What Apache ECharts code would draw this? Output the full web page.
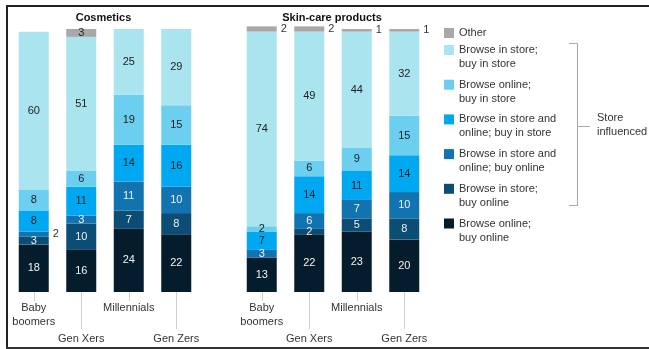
<!DOCTYPE html>
<html>
<head>
<meta charset="utf-8">
<script src="https://cdn.jsdelivr.net/npm/echarts@6/dist/echarts.min.js"></script>
<style>
  html, body { margin: 0; padding: 0; background: #fff; }
  #chart { width: 649px; height: 349px; }
</style>
</head>
<body>
<div id="chart"></div>
<script>
// Generations on the x axis
const categories = ['Baby\nboomers', 'Gen Xers', 'Millennials', 'Gen Zers'];

// Purchase-journey groups, bottom of the stack first
const seriesNames = [
  'Browse online;\nbuy online',
  'Browse in store;\nbuy online',
  'Browse in store and\nonline; buy online',
  'Browse in store and\nonline; buy in store',
  'Browse online;\nbuy in store',
  'Browse in store;\nbuy in store',
  'Other'
];

// Cosmetics, % of respondents
const cosOnlineOnline = [18, 16, 24, 22];
const cosStoreOnline  = [3, 10, 7, 8];
const cosBothOnline   = [2, 3, 11, 10];
const cosBothStore    = [8, 11, 14, 16];
const cosOnlineStore  = [8, 6, 19, 15];
const cosStoreStore   = [60, 51, 25, 29];
const cosOther        = [0, 3, 0, 0];

// Skin-care products, % of respondents
const skinOnlineOnline = [13, 22, 23, 20];
const skinStoreOnline  = [0, 2, 5, 8];
const skinBothOnline   = [3, 6, 7, 10];
const skinBothStore    = [7, 14, 11, 14];
const skinOnlineStore  = [2, 6, 9, 15];
const skinStoreStore   = [74, 49, 44, 32];
const skinOther        = [2, 2, 1, 1];

const colors = ['#051c2c', '#0b4d74', '#1174b0', '#00a8f2', '#6ccff0', '#aae4ef', '#a8a8a8'];
const labelColors = ['#f2f2f2', '#eeeeee', '#f2f2f2', '#222', '#222', '#222', '#222'];

const cosData = [cosOnlineOnline, cosStoreOnline, cosBothOnline, cosBothStore, cosOnlineStore, cosStoreStore, cosOther];
const skinData = [skinOnlineOnline, skinStoreOnline, skinBothOnline, skinBothStore, skinOnlineStore, skinStoreStore, skinOther];

const FONT = '"Liberation Sans", Arial, sans-serif';

// labels that sit beside the bar instead of inside it
function isOutside(panel, s, i) {
  if (panel === 0) return s === 2 && i === 0;
  return s === 6;
}

function buildSeries(panel, dataSets) {
  return dataSets.map(function (vals, s) {
    return {
      name: seriesNames[s],
      type: 'bar',
      stack: panel === 0 ? 'cos' : 'skin',
      xAxisIndex: panel * 2,
      yAxisIndex: panel,
      barWidth: 30,
      clip: false,
      itemStyle: { color: colors[s] },
      label: {
        show: true,
        position: 'inside',
        fontSize: 11,
        fontFamily: FONT,
        color: labelColors[s],
        formatter: function (p) { return p.value ? String(p.value) : ''; }
      },
      data: vals.map(function (v, i) {
        if (isOutside(panel, s, i)) {
          return { value: v, label: { position: 'right', distance: 4, color: '#333' } };
        }
        return v;
      })
    };
  });
}

function xAxes(grid) {
  const base = {
    gridIndex: grid,
    type: 'category',
    data: categories,
    position: 'bottom',
    axisLine: { show: false },
    splitLine: { show: false }
  };
  return [
    Object.assign({}, base, {
      axisTick: { show: true, alignWithLabel: true, length: 9,
        interval: function (i) { return i % 2 === 0; },
        lineStyle: { color: '#cfcfcf', width: 1 } },
      axisLabel: { interval: function (i) { return i % 2 === 0; }, margin: 9,
        fontSize: 11, lineHeight: 14, fontFamily: FONT, color: '#333' }
    }),
    Object.assign({}, base, {
      axisTick: { show: true, alignWithLabel: true, length: 37,
        interval: function (i) { return i % 2 === 1; },
        lineStyle: { color: '#cfcfcf', width: 1 } },
      axisLabel: { interval: function (i) { return i % 2 === 1; }, margin: 40,
        fontSize: 11, lineHeight: 14, fontFamily: FONT, color: '#333' }
    })
  ];
}

const yBase = { type: 'value', min: 0, max: 100, show: false };

const legendText = { fontSize: 11, fontFamily: FONT, color: '#333', lineHeight: 14 };

const option = {
  animation: false,
  backgroundColor: '#fff',
  textStyle: { fontFamily: FONT },
  title: [
    { text: 'Cosmetics', left: 98.5, top: 7, textAlign: 'center',
      textStyle: { fontSize: 11, fontWeight: 'bold', color: '#111', fontFamily: FONT } },
    { text: 'Skin-care products', left: 327, top: 7, textAlign: 'center',
      textStyle: { fontSize: 11, fontWeight: 'bold', color: '#111', fontFamily: FONT } }
  ],
  grid: [
    { left: 10, top: 29, width: 190, height: 263 },
    { left: 238, top: 29, width: 190, height: 263 }
  ],
  xAxis: xAxes(0).concat(xAxes(1)),
  yAxis: [Object.assign({ gridIndex: 0 }, yBase), Object.assign({ gridIndex: 1 }, yBase)],
  legend: [
    {
      data: ['Other'],
      orient: 'vertical', left: 444, top: 26, padding: 0,
      itemWidth: 10, itemHeight: 10, icon: 'rect',
      textStyle: legendText
    },
    {
      // a leading blank line keeps the swatch level with the first text line
      data: seriesNames.slice(0, 6).reverse(),
      orient: 'vertical', left: 444, top: 29, padding: 0,
      itemWidth: 10, itemHeight: 10, icon: 'rect', itemGap: -7.3,
      formatter: function (name) { return '\n' + name; },
      textStyle: legendText
    }
  ],
  graphic: [
    // frame
    { type: 'rect', shape: { x: 6, y: 5, width: 643, height: 2 }, style: { fill: '#222' }, silent: true },
    { type: 'rect', shape: { x: 6, y: 5, width: 2, height: 344 }, style: { fill: '#222' }, silent: true },
    { type: 'rect', shape: { x: 6, y: 347, width: 643, height: 2 }, style: { fill: '#333' }, silent: true },
    // bracket grouping the store-influenced journeys
    { type: 'polyline', shape: { points: [[569, 43.5], [577.5, 43.5], [577.5, 205.5], [569, 205.5]] },
      style: { stroke: '#a8a8a8', lineWidth: 1, fill: null }, silent: true },
    { type: 'line', shape: { x1: 577.5, y1: 126.5, x2: 590, y2: 126.5 },
      style: { stroke: '#a8a8a8', lineWidth: 1 }, silent: true },
    { type: 'text', x: 597, y: 125,
      style: { text: 'Store\ninfluenced', fontSize: 11, lineHeight: 14, fontFamily: FONT,
        fill: '#333', verticalAlign: 'middle', align: 'left' }, silent: true }
  ],
  series: buildSeries(0, cosData).concat(buildSeries(1, skinData))
};

const chart = echarts.init(document.getElementById('chart'), null, { renderer: 'canvas' });
chart.setOption(option);
</script>
</body>
</html>
